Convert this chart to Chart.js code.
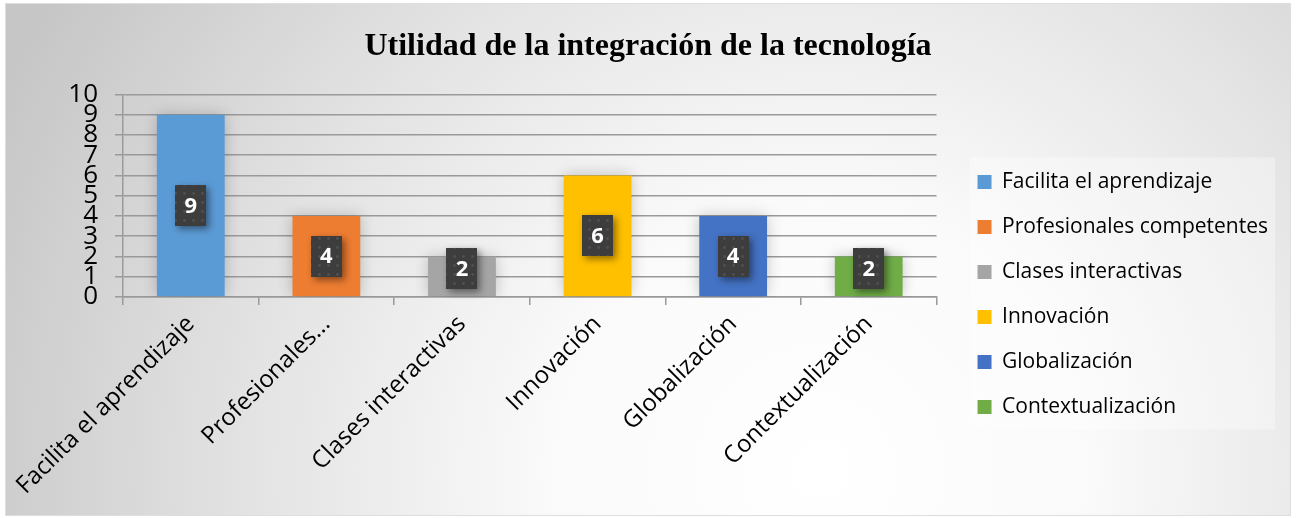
<!DOCTYPE html>
<html lang="es">
<head>
<meta charset="UTF-8">
<title>Utilidad de la integración de la tecnología</title>
<script src="https://cdn.jsdelivr.net/npm/chart.js@4"></script>
<style>
  html, body { margin: 0; padding: 0; background: #fff; }
</style>
</head>
<body>
<canvas id="myChart" width="1298" height="518"></canvas>
<script>
const categories = ['Facilita el aprendizaje', 'Profesionales competentes', 'Clases interactivas', 'Innovación', 'Globalización', 'Contextualización'];
const axisLabels = ['Facilita el aprendizaje', 'Profesionales...', 'Clases interactivas', 'Innovación', 'Globalización', 'Contextualización'];
const values = [9, 4, 2, 6, 4, 2];
const barColors = ['#5B9BD5', '#ED7D31', '#A5A5A5', '#FFC000', '#4472C4', '#70AD47'];
const yMin = 0, yMax = 10, yStep = 1;

const sans = "'Open Sans', 'DejaVu Sans', sans-serif";
const serif = "'Liberation Serif', 'Times New Roman', serif";

// dotted texture for the value boxes
const dotCanvas = document.createElement('canvas');
dotCanvas.width = 9; dotCanvas.height = 9;
const dctx = dotCanvas.getContext('2d');
dctx.fillStyle = '#3d3d3d';
dctx.fillRect(0, 0, 9, 9);
dctx.fillStyle = 'rgba(255,255,255,0.10)';
dctx.beginPath(); dctx.arc(4.5, 4.5, 1.4, 0, Math.PI * 2); dctx.fill();

const background = {
    id: 'background',
    beforeDraw(chart) {
        const ctx = chart.ctx;
        const w = chart.width, h = chart.height;
        ctx.save();
        ctx.fillStyle = '#fff';
        ctx.fillRect(0, 0, w, h);
        const g = ctx.createRadialGradient(820, 470, 0, 820, 470, 900);
        g.addColorStop(0, '#ffffff');
        g.addColorStop(0.3, '#fafafa');
        g.addColorStop(0.65, '#e2e2e2');
        g.addColorStop(1, '#c6c6c6');
        ctx.fillStyle = g;
        ctx.fillRect(5, 3, w - 12, h - 5);
        ctx.strokeStyle = '#dedede';
        ctx.lineWidth = 1;
        ctx.strokeRect(5.5, 3.5, w - 13, h - 6);

        // legend panel
        const lg = chart.legend;
        if (lg && lg.legendHitBoxes && lg.legendHitBoxes.length) {
            const hb = lg.legendHitBoxes;
            const top = hb[0].top - 14;
            const bottom = hb[hb.length - 1].top + hb[hb.length - 1].height + 12;
            const left = hb[0].left - 8;
            const right = lg.right - 3;
            ctx.fillStyle = 'rgba(255,255,255,0.35)';
            ctx.fillRect(left, top, right - left, bottom - top);
        }
        ctx.restore();
    }
};

// push the legend column down to sit beside the plot
const legendShift = {
    id: 'legendShift',
    afterLayout(chart) {
        const lg = chart.legend;
        if (lg) { lg.top += 36; lg.bottom += 36; }
    }
};

const barShadow = {
    id: 'barShadow',
    beforeDatasetsDraw(chart) {
        const ctx = chart.ctx;
        ctx.save();
        ctx.shadowColor = 'rgba(0,0,0,0.22)';
        ctx.shadowBlur = 14;
    },
    afterDatasetsDraw(chart) {
        chart.ctx.restore();
    }
};

const valueBoxes = {
    id: 'valueBoxes',
    afterDatasetsDraw(chart) {
        const ctx = chart.ctx;
        const meta = chart.getDatasetMeta(0);
        const bw = 31, bh = 41;
        meta.data.forEach((bar, i) => {
            const p = bar.getProps(['x', 'y', 'base'], true);
            let cy = (p.y + p.base) / 2;
            cy = Math.min(cy, p.base - 7 - bh / 2);
            const x0 = Math.round(p.x - bw / 2), y0 = Math.round(cy - bh / 2);
            ctx.save();
            ctx.shadowColor = 'rgba(0,0,0,0.45)';
            ctx.shadowBlur = 7;
            ctx.shadowOffsetX = 3;
            ctx.shadowOffsetY = 3;
            ctx.fillStyle = '#3d3d3d';
            ctx.fillRect(x0, y0, bw, bh);
            ctx.restore();
            ctx.save();
            ctx.fillStyle = ctx.createPattern(dotCanvas, 'repeat');
            ctx.fillRect(x0, y0, bw, bh);
            ctx.fillStyle = '#fff';
            ctx.font = "bold 22px " + sans;
            ctx.textAlign = 'center';
            ctx.textBaseline = 'middle';
            ctx.fillText(String(values[i]), p.x, cy + 1);
            ctx.restore();
        });
    }
};

function drawChart() {
    const ctx = document.getElementById('myChart').getContext('2d');
    new Chart(ctx, {
        type: 'bar',
        data: {
            labels: categories,
            datasets: [{
                label: 'Utilidad',
                data: values,
                backgroundColor: barColors,
                borderWidth: 0,
                barPercentage: 0.5,
                categoryPercentage: 1.0
            }]
        },
        options: {
            responsive: false,
            animation: false,
            layout: { padding: { left: 18, right: 20, top: 0, bottom: 1 } },
            plugins: {
                title: {
                    display: true,
                    text: 'Utilidad de la integración de la tecnología',
                    color: '#000',
                    font: { family: serif, size: 32, weight: 'bold' },
                    padding: { top: 28, bottom: 28 }
                },
                legend: {
                    position: 'right',
                    align: 'center',
                    maxWidth: 400,
                    labels: {
                        boxWidth: 14,
                        boxHeight: 14,
                        padding: 24,
                        color: '#000',
                        font: { family: sans, size: 21 },
                        generateLabels() {
                            return categories.map((c, i) => ({
                                text: c,
                                fillStyle: barColors[i],
                                strokeStyle: barColors[i],
                                lineWidth: 0,
                                index: i
                            }));
                        }
                    }
                },
                tooltip: { enabled: false }
            },
            scales: {
                x: {
                    grid: { offset: true, drawOnChartArea: false, drawTicks: true, tickLength: 8, color: '#9a9a9a', lineWidth: 1.5 },
                    border: { display: true, color: '#9a9a9a', width: 1.5 },
                    ticks: {
                        autoSkip: false,
                        maxRotation: 45,
                        minRotation: 45,
                        color: '#000',
                        font: { family: sans, size: 24 },
                        padding: 5,
                        callback: (v, i) => axisLabels[i]
                    },
                    afterFit(scale) {
                        scale.paddingLeft = 0;
                        scale.height = 220;
                    }
                },
                y: {
                    min: yMin,
                    max: yMax,
                    grid: { color: '#9a9a9a', lineWidth: 1.5, tickLength: 8 },
                    border: { display: true, color: '#9a9a9a', width: 1.5 },
                    ticks: {
                        stepSize: yStep,
                        autoSkip: false,
                        color: '#000',
                        padding: 17,
                        font: { family: sans, size: 26 }
                    },
                    afterFit(scale) { scale.width = 105; }
                },
                gap: {
                    position: 'right',
                    display: true,
                    grid: { display: false },
                    border: { display: false },
                    ticks: { display: false },
                    afterFit(scale) { scale.width = 17; }
                }
            }
        },
        plugins: [background, legendShift, barShadow, valueBoxes]
    });
}

Promise.all([
    document.fonts.load("21px 'Open Sans'"),
    document.fonts.load("bold 22px 'Open Sans'"),
    document.fonts.load("bold 32px 'Liberation Serif'")
]).then(drawChart, drawChart);
</script>
</body>
</html>
